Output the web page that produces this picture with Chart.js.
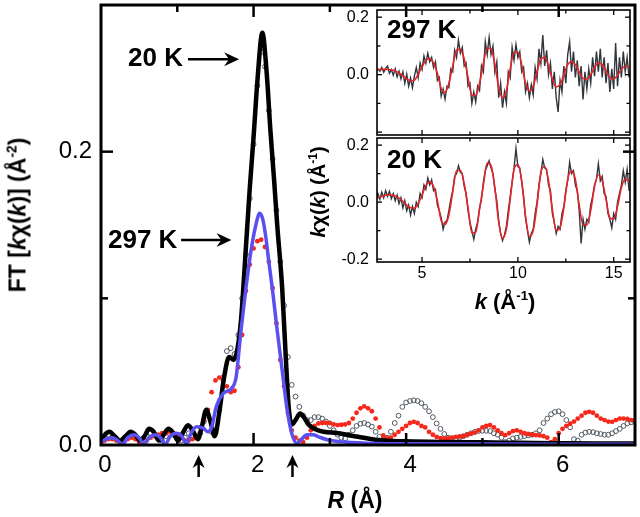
<!DOCTYPE html>
<html>
<head>
<meta charset="utf-8">
<script src="https://cdn.jsdelivr.net/npm/chart.js@4.4.0/dist/chart.umd.min.js"></script>
<style>
  body { margin: 0; background: #fff; }
  #wrap { position: relative; width: 640px; height: 517px; font-family: "Liberation Sans", Arial, sans-serif; }
  canvas { position: absolute; }
  .lbl { position: absolute; font-weight: bold; white-space: nowrap; line-height: 1; color: #000; }
  .rot { transform: translate(-50%, -50%) rotate(-90deg); }
  .ctr { transform: translate(-50%, -50%); }
  .lft { transform: translateY(-50%); }
  sup { font-size: 0.6em; vertical-align: 0.65em; line-height: 0; }
</style>
</head>
<body>
<div id="wrap">
  <canvas id="mainChart" width="640" height="517" style="left:0;top:0"></canvas>
  <canvas id="insetTop" width="310" height="140" style="left:330px;top:0"></canvas>
  <canvas id="insetBot" width="310" height="160" style="left:330px;top:130px"></canvas>

  <div class="lbl rot" style="left:18px;top:215px;font-size:23px">FT [<i>k</i>χ(<i>k</i>)] (Å<sup>-2</sup>)</div>
  <div class="lbl ctr" style="left:355px;top:500px;font-size:23px"><i>R</i> (Å)</div>
  <div class="lbl lft" style="left:128px;top:57px;font-size:26px">20 K</div>
  <div class="lbl lft" style="left:108px;top:239px;font-size:26px">297 K</div>

  <div class="lbl rot" style="left:318px;top:192px;font-size:20px"><i>k</i>χ(<i>k</i>) (Å<sup>-1</sup>)</div>
  <div class="lbl ctr" style="left:505px;top:302px;font-size:22px"><i>k</i> (Å<sup>-1</sup>)</div>
  <div class="lbl lft" style="left:387px;top:29px;font-size:26px">297 K</div>
  <div class="lbl lft" style="left:387px;top:159px;font-size:26px">20 K</div>
</div>

<script>
// ---- main panel: FT magnitude vs R ----
const R_STEP = 0.05; // dot series sampled on R = 0, 0.05, ... 7.0

// 20 K data (open grey circles)
const DATA_20K = [
  0.002,0.005,0.007,0.006,0.004,0.002,0.004,0.006,0.007,0.005,
  0.003,0.003,0.006,0.008,0.007,0.004,0.003,0.006,0.008,0.007,
  0.004,0.003,0.005,0.008,0.009,0.006,0.008,0.016,0.020,0.009,
  0.008,0.024,0.046,0.064,0.066,0.062,0.075,0.100,0.130,0.168,
  0.205,0.245,0.268,0.258,0.228,0.195,0.160,0.125,0.095,0.060,
  0.041,0.033,0.026,0.020,0.017,0.017,0.019,0.019,0.018,0.016,
  0.013,0.010,0.007,0.005,0.0045,0.007,0.010,0.013,0.0145,0.015,
  0.014,0.0125,0.009,0.0056,0.0035,0.005,0.009,0.015,0.020,0.026,
  0.029,0.030,0.0305,0.030,0.0285,0.026,0.023,0.019,0.0147,0.011,
  0.0075,0.005,0.0045,0.0045,0.005,0.006,0.007,0.008,0.009,0.0095,
  0.0097,0.0097,0.0095,0.008,0.007,0.005,0.002,0.003,0.0045,0.005,
  0.0055,0.006,0.0065,0.007,0.008,0.010,0.015,0.018,0.021,0.0225,
  0.023,0.021,0.017,0.012,0.004,0.003,0.007,0.0085,0.009,0.0088,
  0.008,0.0075,0.007,0.007,0.008,0.0095,0.011,0.013,0.0147,0.0155,
  0.016
];

// 297 K data (red dots)
const DATA_297K = [
  0.002,0.003,0.004,0.004,0.003,0.001,0.002,0.004,0.005,0.004,
  0.002,0.001,0.003,0.005,0.006,0.007,0.008,0.008,0.009,0.008,
  0.007,0.005,0.003,0.003,0.004,0.006,0.012,0.017,0.024,0.036,
  0.044,0.046,0.044,0.040,0.036,0.037,0.053,0.075,0.105,0.123,
  0.134,0.139,0.140,0.135,0.125,0.107,0.083,0.058,0.040,0.022,
  0.010,0.005,0.003,0.002,0.005,0.010,0.013,0.0147,0.015,0.015,
  0.015,0.014,0.0136,0.0138,0.014,0.015,0.018,0.022,0.025,0.0264,
  0.025,0.023,0.018,0.012,0.0065,0.0045,0.005,0.007,0.009,0.011,
  0.013,0.015,0.0158,0.015,0.013,0.012,0.009,0.007,0.0055,0.0047,
  0.0045,0.0045,0.005,0.0055,0.0058,0.006,0.007,0.0078,0.0085,0.010,
  0.012,0.013,0.0136,0.012,0.010,0.008,0.0068,0.008,0.0095,0.010,
  0.009,0.008,0.0075,0.007,0.0068,0.0065,0.006,0.005,0.002,0.004,
  0.008,0.011,0.013,0.0145,0.016,0.018,0.020,0.022,0.0226,0.022,
  0.020,0.018,0.017,0.016,0.0158,0.017,0.018,0.018,0.0178,0.017,
  0.017
];

// 20 K fit (black line)
const FIT_20K_R = [
  0.00,0.05,0.11,0.18,0.25,0.32,0.39,0.45,0.51,0.57,
  0.63,0.69,0.76,0.82,0.885,0.95,1.01,1.07,1.14,1.20,
  1.27,1.32,1.38,1.44,1.49,1.55,1.61,1.68,1.74,1.79,
  1.835,1.90,1.95,2.00,2.05,2.115,2.17,2.22,2.27,2.31,
  2.375,2.42,2.46,2.50,2.55,2.61,2.66,2.72,2.85,3.11,
  3.37,3.63,4.0,4.5,5.0,5.5,6.0,6.5,7.0
];
const FIT_20K_V = [
  0.003,0.007,0.009,0.006,0.003,0.006,0.009,0.007,0.003,0.006,
  0.011,0.009,0.003,0.007,0.011,0.008,0.003,0.008,0.0135,0.010,
  0.004,0.012,0.024,0.015,0.006,0.022,0.045,0.060,0.058,0.066,
  0.085,0.135,0.175,0.210,0.248,0.281,0.255,0.215,0.180,0.150,
  0.107,0.062,0.026,0.014,0.017,0.0215,0.019,0.014,0.010,0.008,
  0.0056,0.0034,0.0025,0.002,0.0018,0.0015,0.0012,0.001,0.001
];

// 297 K fit (blue line)
const FIT_297K_R = [
  0.00,0.07,0.15,0.22,0.28,0.35,0.43,0.50,0.56,0.63,
  0.71,0.78,0.84,0.91,0.99,1.06,1.12,1.18,1.25,1.34,
  1.40,1.45,1.51,1.60,1.71,1.77,1.835,1.90,1.965,2.03,
  2.08,2.12,2.16,2.20,2.245,2.31,2.375,2.44,2.50,2.57,
  2.63,2.70,2.78,2.85,2.98,3.2,3.6,4.0,7.0
];
const FIT_297K_V = [
  0.002,0.004,0.005,0.003,0.0005,0.005,0.007,0.005,0.0005,0.005,
  0.007,0.005,0.0005,0.006,0.008,0.006,0.001,0.008,0.0125,0.0115,
  0.009,0.012,0.026,0.035,0.0386,0.046,0.078,0.107,0.132,0.150,
  0.158,0.154,0.142,0.125,0.107,0.078,0.051,0.024,0.008,0.001,
  0.004,0.007,0.007,0.0056,0.0034,0.002,0.001,0.0008,0.0005
];

const MAIN_X_TICKS = [0, 2, 4, 6];
const MAIN_Y_TICKS = [0, 0.2];
// arrows: [R from, R to, FT value] and R positions of the up arrows
const H_ARROWS = [[1.14, 1.81, 0.263], [1.05, 1.71, 0.1397]];
const UP_ARROWS = [1.28, 2.51];

// ---- inset: k-space EXAFS ----
const K_DATA_START = 2.6, K_DATA_STEP = 0.1;
const K_FIT_START = 2.6, K_FIT_STEP = 0.2;

const CHI_297K_DATA = [
  0.010,0.020,0.012,0.025,0.008,0.022,0.030,0.005,0.018,-0.002,
  0.020,-0.008,0.012,-0.015,0.010,-0.030,0.002,-0.040,-0.012,-0.045,
  -0.005,0.025,-0.010,0.040,0.018,0.065,0.040,0.075,0.045,0.060,
  0.025,0.045,-0.020,-0.010,-0.075,-0.050,-0.085,-0.040,-0.045,0.020,
  0.010,0.085,0.060,0.120,0.075,0.095,0.030,0.040,-0.040,-0.030,
  -0.100,-0.060,-0.095,-0.040,-0.055,0.030,0.010,0.115,0.070,0.130,
  0.070,0.100,0.010,0.045,-0.080,-0.030,-0.115,-0.060,-0.100,0.010,
  -0.010,0.095,0.050,0.105,0.060,0.080,0.010,0.025,-0.060,-0.030,
  -0.080,-0.035,-0.070,0.025,-0.015,0.090,0.040,0.138,0.030,0.085,
  0.000,0.040,-0.050,0.010,-0.080,-0.130,-0.020,-0.060,0.030,-0.030,
  0.070,0.114,0.010,0.080,-0.010,0.050,-0.040,0.030,-0.086,0.010,
  -0.050,0.020,-0.030,0.060,-0.005,0.080,0.010,0.090,-0.010,0.060,
  -0.030,0.040,-0.060,0.020,-0.050,0.110,-0.040,0.060,-0.010,0.080,
  0.010,0.060,-0.010
];
const CHI_297K_FIT = [
  0.017,0.018,0.019,0.018,0.017,0.013,0.006,-0.004,-0.015,-0.021,
  -0.019,0.002,0.028,0.050,0.056,0.040,0.005,-0.048,-0.062,-0.030,
  0.030,0.085,0.088,0.055,-0.010,-0.072,-0.072,-0.030,0.040,0.093,
  0.090,0.035,-0.045,-0.080,-0.055,0.020,0.078,0.078,0.035,-0.030,
  -0.057,-0.040,0.010,0.055,0.060,0.030,-0.015,-0.042,-0.035,0.000,
  0.035,0.046,0.035,0.010,-0.013,-0.015,0.000,0.025,0.040,0.035,
  0.012,-0.010,-0.015,-0.002,0.018,0.029,0.026
];
const CHI_20K_DATA = [
  0.005,0.030,0.010,0.035,0.015,0.040,0.020,0.038,0.012,0.030,
  0.005,0.025,-0.005,0.015,-0.020,0.005,-0.030,-0.010,-0.045,-0.015,
  -0.040,0.000,-0.015,0.030,0.015,0.060,0.045,0.085,0.060,0.078,
  0.040,0.045,-0.010,-0.030,-0.055,-0.095,-0.070,-0.065,-0.030,0.010,
  0.040,0.090,0.100,0.128,0.105,0.100,0.055,0.030,-0.030,-0.070,
  -0.100,-0.130,-0.095,-0.070,-0.020,0.010,0.070,0.110,0.128,0.145,
  0.120,0.100,0.045,0.005,-0.065,-0.110,-0.135,-0.115,-0.085,-0.030,
  0.020,0.070,0.120,0.188,0.125,0.120,0.070,0.020,-0.055,-0.100,
  -0.140,-0.110,-0.095,-0.040,0.000,0.060,0.100,0.150,0.120,0.115,
  0.060,0.040,-0.040,-0.070,-0.110,-0.085,-0.095,-0.040,-0.015,0.040,
  0.075,0.140,0.100,0.110,0.060,0.040,-0.030,-0.145,-0.060,-0.095,
  -0.060,-0.070,-0.010,0.020,0.060,0.080,0.135,0.075,0.090,0.030,
  0.020,-0.040,-0.060,-0.090,-0.040,-0.060,0.000,0.030,0.060,0.110,
  0.070,0.115,0.040
];
const CHI_20K_FIT = [
  0.012,0.018,0.022,0.025,0.025,0.022,0.014,0.003,-0.010,-0.020,
  -0.021,-0.005,0.025,0.058,0.071,0.055,0.005,-0.065,-0.078,-0.045,
  0.035,0.110,0.112,0.065,-0.020,-0.108,-0.105,-0.025,0.060,0.138,
  0.128,0.050,-0.070,-0.127,-0.095,0.010,0.115,0.132,0.075,-0.050,
  -0.120,-0.100,-0.010,0.105,0.125,0.075,-0.025,-0.100,-0.090,-0.020,
  0.080,0.110,0.080,-0.010,-0.080,-0.080,-0.030,0.055,0.095,0.075,
  0.010,-0.055,-0.060,-0.015,0.050,0.082,0.070
];
const INSET_X_TICKS = [5, 10, 15];
const INSET_Y_TICKS_TOP = [0, 0.2];
const INSET_Y_TICKS_BOT = [-0.2, 0, 0.2];

Chart.defaults.font.family = '"Liberation Sans", Arial, sans-serif';
Chart.defaults.color = '#000';

const pts = (xs, ys) => xs.map((v, i) => ({ x: v, y: ys[i] }));
const grid = (start, step, n) => Array.from({ length: n }, (_, i) => Math.round((start + i * step) * 1000) / 1000);
const fixTicks = vals => s => { s.ticks = vals.map(v => ({ value: v })); };
// fixed axis size, and no extra room for half-labels at the ends
const fitSize = (prop, size) => s => {
  s[prop] = size;
  s.paddingTop = s.paddingBottom = s.paddingLeft = s.paddingRight = 0;
};

// frame + inward ticks on all four sides
function framePlugin(cfg) {
  return {
    id: 'frame',
    afterDatasetsDraw(chart) {
      const { ctx, chartArea: a, scales: { x, y } } = chart;
      ctx.save();
      ctx.strokeStyle = '#000';
      ctx.lineWidth = cfg.tickW;
      const seg = (x0, y0, x1, y1) => { ctx.beginPath(); ctx.moveTo(x0, y0); ctx.lineTo(x1, y1); ctx.stroke(); };
      cfg.xTicks.forEach(([v, len]) => {
        const p = x.getPixelForValue(v);
        seg(p, a.bottom, p, a.bottom - len);
        seg(p, a.top, p, a.top + len);
      });
      cfg.yTicks.forEach(([v, len]) => {
        const p = y.getPixelForValue(v);
        seg(a.left, p, a.left + len, p);
        seg(a.right, p, a.right - len, p);
      });
      ctx.lineWidth = cfg.frameW;
      ctx.strokeRect(a.left, a.top, a.right - a.left, a.bottom - a.top);
      ctx.restore();
    }
  };
}

const arrowPlugin = {
  id: 'arrows',
  afterDraw(chart) {
    const { ctx, chartArea: a, scales: { x, y } } = chart;
    ctx.save();
    ctx.strokeStyle = '#000';
    ctx.fillStyle = '#000';
    ctx.lineWidth = 2.5;
    H_ARROWS.forEach(([r0, r1, v]) => {
      const x0 = x.getPixelForValue(r0), x1 = x.getPixelForValue(r1), py = y.getPixelForValue(v);
      ctx.beginPath(); ctx.moveTo(x0, py); ctx.lineTo(x1 - 6, py); ctx.stroke();
      ctx.beginPath();
      ctx.moveTo(x1, py); ctx.lineTo(x1 - 15, py - 7); ctx.lineTo(x1 - 10, py); ctx.lineTo(x1 - 15, py + 7);
      ctx.closePath(); ctx.fill();
    });
    UP_ARROWS.forEach(r => {
      const px = x.getPixelForValue(r), tip = a.bottom + 10, tail = a.bottom + 32;
      ctx.beginPath(); ctx.moveTo(px, tail); ctx.lineTo(px, tip + 6); ctx.stroke();
      ctx.beginPath();
      ctx.moveTo(px, tip); ctx.lineTo(px - 6, tip + 13); ctx.lineTo(px, tip + 9); ctx.lineTo(px + 6, tip + 13);
      ctx.closePath(); ctx.fill();
    });
    ctx.restore();
  }
};

const rGrid = grid(0, R_STEP, DATA_20K.length);

new Chart(document.getElementById('mainChart'), {
  type: 'line',
  data: {
    datasets: [
      { data: pts(FIT_297K_R, FIT_297K_V), borderColor: '#5a50f2', borderWidth: 3.5, pointRadius: 0, cubicInterpolationMode: 'monotone', fill: false },
      { data: pts(FIT_20K_R, FIT_20K_V), borderColor: '#000', borderWidth: 4.5, pointRadius: 0, cubicInterpolationMode: 'monotone', fill: false },
      { data: pts(rGrid, DATA_297K), showLine: false, pointRadius: 2.4, pointBackgroundColor: '#f5281c', pointBorderWidth: 0 },
      { data: pts(rGrid, DATA_20K), showLine: false, pointRadius: 2.4, pointBackgroundColor: 'rgba(0,0,0,0)', pointBorderColor: '#4f5860', pointBorderWidth: 1 }
    ]
  },
  options: {
    responsive: false,
    animation: false,
    layout: { padding: { top: 2, right: 3, bottom: 0, left: 0 } },
    plugins: { legend: { display: false }, tooltip: { enabled: false } },
    scales: {
      x: {
        type: 'linear', min: 0, max: 7,
        grid: { display: false, drawTicks: false }, border: { display: false },
        ticks: { padding: 6, labelOffset: 4, maxRotation: 0, font: { size: 24 }, callback: v => String(v) },
        afterBuildTicks: fixTicks(MAIN_X_TICKS),
        afterFit: fitSize('height', 72)
      },
      y: {
        type: 'linear', min: 0, max: 0.3,
        grid: { display: false, drawTicks: false }, border: { display: false },
        ticks: { padding: 9, font: { size: 24 }, callback: v => v.toFixed(1) },
        afterBuildTicks: fixTicks(MAIN_Y_TICKS),
        afterFit: fitSize('width', 101)
      }
    }
  },
  plugins: [
    framePlugin({ frameW: 3, tickW: 2.5, xTicks: [[1, 7], [2, 12], [3, 7], [4, 12], [5, 7], [6, 12]], yTicks: [[0.1, 7], [0.2, 12]] }),
    arrowPlugin
  ]
});

function inset(id, dataVals, fitVals, yTicks, showX, pad, xHeight) {
  const kData = grid(K_DATA_START, K_DATA_STEP, dataVals.length);
  const kFit = grid(K_FIT_START, K_FIT_STEP, fitVals.length);
  return new Chart(document.getElementById(id), {
    type: 'line',
    data: {
      datasets: [
        { data: pts(kFit, fitVals), borderColor: '#e8232a', borderWidth: 1.6, pointRadius: 0, cubicInterpolationMode: 'monotone', fill: false },
        { data: pts(kData, dataVals), borderColor: '#30363b', borderWidth: 1.4, pointRadius: 0, tension: 0, fill: false }
      ]
    },
    options: {
      responsive: false,
      animation: false,
      layout: { padding: pad },
      plugins: { legend: { display: false }, tooltip: { enabled: false } },
      scales: {
        x: {
          type: 'linear', min: 2.65, max: 15.85,
          grid: { display: false, drawTicks: false }, border: { display: false },
          ticks: { display: showX, padding: 2, maxRotation: 0, font: { size: 16 }, callback: v => String(v) },
          afterBuildTicks: fixTicks(INSET_X_TICKS),
          afterFit: fitSize('height', xHeight)
        },
        y: {
          type: 'linear', min: -0.21, max: 0.225,
          grid: { display: false, drawTicks: false }, border: { display: false },
          ticks: { padding: 8, font: { size: 16 }, callback: v => v.toFixed(1) },
          afterBuildTicks: fixTicks(yTicks),
          afterFit: fitSize('width', 47)
        }
      }
    },
    plugins: [
      framePlugin({ frameW: 1.6, tickW: 1.3,
        xTicks: [[5, 5], [7.5, 3.5], [10, 5], [12.5, 3.5], [15, 5]],
        yTicks: [[-0.2, 5], [-0.1, 3.5], [0, 5], [0.1, 3.5], [0.2, 5]] })
    ]
  });
}

inset('insetTop', CHI_297K_DATA, CHI_297K_FIT, INSET_Y_TICKS_TOP, false, { top: 10, right: 10, bottom: 5, left: 0 }, 0);
inset('insetBot', CHI_20K_DATA, CHI_20K_FIT, INSET_Y_TICKS_BOT, true, { top: 8, right: 10, bottom: 0, left: 0 }, 28);
</script>
</body>
</html>
